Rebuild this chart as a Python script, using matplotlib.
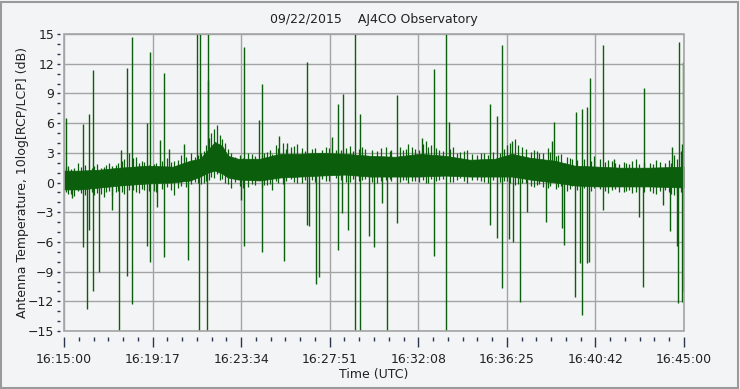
import numpy as np
import matplotlib
matplotlib.use("Agg")
import matplotlib.pyplot as plt
from matplotlib.ticker import MultipleLocator, FixedLocator
from matplotlib.patches import Rectangle

# dense core of the band (seconds after 16:15:00, dB)
core_t = [0, 46, 105, 163, 241, 316, 366, 395, 418, 438, 459, 476, 505, 569, 627, 685,
          743, 816, 888, 961, 1033, 1106, 1179, 1251, 1300, 1353, 1425, 1483, 1550, 1614,
          1701, 1800]
core_hi = [1.2, 1.2, 1.3, 1.5, 1.7, 1.6, 2.2, 2.4, 3.3, 4.1, 3.7, 2.7, 2.4, 2.4, 2.9, 2.9,
           3.0, 2.9, 2.7, 2.6, 2.9, 2.7, 2.3, 2.4, 2.9, 2.5, 2.2, 1.7, 1.6, 1.5,
           1.5, 1.6]
core_lo = [-0.7, -0.7, -0.5, -0.3, -0.1, 0.0, 0.2, 0.6, 1.0, 1.2, 0.9, 0.5, 0.3, 0.2, 0.5, 0.6,
           0.7, 0.8, 0.6, 0.6, 0.6, 0.7, 0.6, 0.6, 0.6, 0.3, 0.0, -0.3, -0.4, -0.4,
           -0.4, -0.5]

# ragged fringe of the band
fr_t = [12, 30, 40, 62, 95, 115, 130, 150, 175, 190, 210, 225, 260, 300, 320, 340, 370, 380,
        405, 428, 445, 452, 468, 485, 495, 535, 555, 590, 605, 615, 635, 660, 675, 720, 760,
        790, 830, 875, 910, 935, 950, 985, 1000, 1020, 1050, 1065, 1090, 1130, 1150, 1170,
        1200, 1220, 1285, 1310, 1330, 1365, 1380, 1405, 1435, 1460, 1475, 1540, 1580, 1600,
        1625, 1640, 1660, 1700, 1720, 1745, 1770, 1790]
fr_hi = [1.7, 1.5, 2.0, 1.8, 1.9, 1.6, 2.0, 1.8, 2.4, 3.0, 2.6, 2.2, 1.9, 2.5, 2.2, 2.8, 3.0, 2.6,
         3.2, 5.0, 5.8, 4.8, 4.0, 3.0, 2.6, 3.0, 2.7, 3.1, 2.9, 3.8, 4.0, 3.6, 3.9, 3.4, 3.6,
         3.3, 3.7, 3.4, 3.2, 3.6, 3.3, 3.3, 3.9, 3.4, 4.2, 3.8, 3.3, 3.6, 3.1, 3.3,
         2.8, 3.0, 3.8, 4.4, 3.6, 3.3, 3.0, 3.5, 2.8, 2.6, 2.4, 2.7, 2.3, 2.0,
         2.1, 1.9, 2.4, 2.0, 2.3, 2.0, 2.8, 3.2]
fr_lo = [-1.2, -1.4, -0.9, -1.3, -1.1, -1.5, -0.9, -1.0, -1.2, -0.8, -1.0, -0.7, -0.9, -0.5,
         -1.3, -0.4, -0.2, 0.1, 0.0, 0.6, 0.9, 0.3, 0.0, -0.6, 0.1, -0.5, -0.3, -0.3, -0.8, 0.2,
         -0.2, 0.4, 0.0, 0.3, 0.2, 0.5, 0.1, 0.4, 0.0, 0.3, 0.2, 0.3, 0.0, 0.2, 0.0, 0.4, 0.3,
         0.1, 0.5, 0.0, 0.3, 0.1, 0.2, -0.3, 0.0, -0.5, -0.2, -0.6, -0.5, -0.9, -0.4, -0.6,
         -1.1, -0.7, -1.0, -0.8, -1.0, -0.9, -1.2, -0.8, -1.3, -1.0]

fr2_t = [5, 20, 50, 80, 88, 108, 122, 140, 158, 168, 200, 218, 232, 248, 268, 285, 310, 330,
         355, 390, 398, 412, 422, 435, 460, 475, 510, 520, 545, 575, 582, 597, 622, 645, 668,
         690, 700, 730, 750, 770, 805, 820, 840, 855, 865, 895, 920, 945, 975, 992, 1010,
         1030, 1042, 1058, 1080, 1100, 1120, 1140, 1160, 1185, 1210, 1230, 1245, 1265, 1278,
         1295, 1318, 1340, 1355, 1372, 1390, 1412, 1428, 1442, 1470, 1490, 1510, 1530, 1555,
         1570, 1590, 1610, 1632, 1650, 1670, 1685, 1710, 1730, 1755, 1762, 1780, 1796]
fr2_hi = [1.6, 1.4, 1.6, 1.5, 1.7, 1.5, 1.8, 1.7, 2.0, 2.2, 2.5, 2.0, 2.1, 1.8, 2.0, 2.2, 2.1,
          2.3, 2.6, 2.8, 3.0, 3.8, 4.5, 5.4, 4.4, 3.4, 2.8, 2.5, 2.9, 2.8, 3.0, 3.3, 3.5, 3.4,
          3.7, 3.5, 3.2, 3.5, 3.3, 3.5, 3.3, 3.5, 3.2, 3.4, 3.6, 3.3, 3.5, 3.2, 3.6, 3.4, 3.6,
          3.3, 3.9, 3.6, 3.5, 3.2, 3.4, 3.0, 3.2, 2.9, 3.0, 2.8, 3.1, 3.0, 3.4,
          4.0, 3.8, 3.4, 3.1, 3.2, 3.0, 3.1, 2.7, 2.9, 2.5, 2.3, 2.4, 2.2, 2.4,
          2.1, 2.2, 1.9, 2.0, 2.2, 1.9, 2.1, 1.9, 2.1, 2.3, 2.0, 2.4, 2.2]
fr2_lo = [-1.0, -1.2, -1.1, -1.0, -1.3, -1.2, -1.0, -1.3, -0.9, -1.0, -0.8, -1.1, -0.8, -0.9,
          -1.0, -0.7, -0.8, -0.6, -0.5, 0.0, -0.2, 0.2, 0.3, 0.5, 0.4, -0.2, -0.4, -0.6, -0.2,
          -0.5, -0.3, -0.2, 0.0, 0.2, 0.1, 0.0, 0.3, 0.1, 0.4, 0.2, 0.3, 0.1, 0.4, 0.2, 0.3,
          0.1, 0.2, 0.4, 0.1, 0.3, 0.2, 0.1, 0.3, 0.0, 0.2, 0.4, 0.1, 0.3, 0.2, 0.3, 0.2,
          0.0, 0.3, 0.1, 0.2, 0.0, -0.2, -0.1, -0.4, -0.3, -0.5, -0.4, -0.7, -0.4, -0.7,
          -0.8, -0.6, -0.9, -0.7, -0.9, -0.8, -1.0, -0.9, -1.1, -0.8, -1.0, -1.1, -0.9,
          -1.0, -1.2, -1.1, -1.2]

# spikes above the band
up_t = [6, 56, 73, 85, 165, 184, 198, 242, 251, 280, 291, 306, 349, 387, 396, 417, 419,
        523, 567, 576, 625, 648, 706, 779, 796, 811, 846, 860, 966, 1038, 1075, 1110, 1117,
        1238, 1258, 1272, 1302, 1416, 1424, 1485, 1503, 1519, 1528, 1566, 1597, 1685, 1764,
        1786, 1793, 1798]
up_db = [6.5, 5.9, 6.9, 11.4, 3.3, 11.6, 14.7, 6.0, 13.2, 4.3, 11.1, 3.4, 3.9, 15, 15, 10.4, 15,
         13.7, 6.3, 9.9, 4.7, 4.0, 12.2, 4.6, 7.9, 8.9, 15, 6.9, 8.8, 4.5, 11.5, 15, 6.1,
         7.9, 6.7, 13.9, 4.2, 4.2, 6.1, 7.1, 7.4, 7.6, 10.6, 13.9, 2.4, 9.5, 3.6,
         14.2, 3.9, 12.2]

# spikes below the band
dn_t = [24, 56, 68, 73, 85, 102, 140, 161, 184, 198, 242, 251, 271, 291, 361, 393, 414,
        513, 523, 576, 640, 706, 712, 732, 741, 796, 808, 825, 846, 860, 886, 901, 922, 939,
        966, 1075, 1110, 1238, 1258, 1272, 1293, 1304, 1325, 1343, 1398, 1445, 1452, 1484,
        1498, 1503, 1519, 1525, 1566, 1670, 1682, 1740, 1759, 1781, 1784, 1793, 1798]
dn_db = [-1.6, -6.5, -12.8, -4.8, -11.0, -9.0, -2.8, -15, -9.4, -12.3, -6.4, -8.0, -2.5, -7.5,
         -7.8, -15, -15,
         -1.8, -6.4, -7.0, -7.9, -4.3, -4.4, -10.3, -9.5, -6.8, -3.1, -4.8, -15, -15, -5.4, -6.5,
         -2.1, -15,
         -4.1, -7.4, -15, -4.3, -5.6, -10.7, -5.7, -6.0, -12.1, -3.0, -4.0, -4.6, -6.3, -11.6,
         -8.1, -13.4, -8.1, -8.0, -2.8, -3.5, -10.6, -2.3, -4.9, -6.4, -12.2, -12.1, -11.0]

x_labels = ["16:15:00", "16:19:17", "16:23:34", "16:27:51", "16:32:08", "16:36:25",
            "16:40:42", "16:45:00"]

bg = "#f3f4f6"
green = "#0b5e0b"
grid_c = "#a4a4a4"
tick_c = "#2a3550"

plt.rcParams['font.family'] = ['DejaVu Sans']
fig = plt.figure(figsize=(7.4, 3.89), dpi=100, facecolor=bg)
ax = fig.add_axes([64/740, 1-331/389, 620/740, 297/389], facecolor=bg)

mid = (np.array(core_hi) + np.array(core_lo)) / 2
ax.fill_between(core_t, core_lo, core_hi, color=green, lw=0.5, zorder=3)
ax.vlines(fr_t, fr_lo, fr_hi, color=green, lw=0.9, zorder=3)
ax.vlines(fr2_t, fr2_lo, fr2_hi, color=green, lw=0.9, zorder=3)
ax.vlines(up_t, np.interp(up_t, core_t, mid), up_db, color=green, lw=1.0, zorder=3)
ax.vlines(dn_t, np.interp(dn_t, core_t, mid), dn_db, color=green, lw=1.0, zorder=3)

ax.set_xlim(0, 1800)
ax.set_ylim(-15, 15)
ax.xaxis.set_major_locator(FixedLocator(np.linspace(0, 1800, 8)))
ax.set_xticklabels(x_labels)
ax.xaxis.set_minor_locator(MultipleLocator(1800/42))
ax.yaxis.set_major_locator(MultipleLocator(3))
ax.yaxis.set_minor_locator(MultipleLocator(1))
ax.grid(True, which='major', color=grid_c, lw=1.0, zorder=1)

for s in ax.spines.values():
    s.set_visible(False)
ax.spines['bottom'].set_position(('outward', 4))
ax.spines['left'].set_position(('outward', 3))
ax.add_patch(Rectangle((0, 0), 1, 1, transform=ax.transAxes, fill=False,
                       ec=grid_c, lw=1.2, zorder=4, clip_on=False))

ax.tick_params(axis='x', which='major', length=7, width=1.0, color=tick_c,
               labelsize=9, pad=5, labelcolor='#222222')
ax.tick_params(axis='x', which='minor', length=3, width=1.0, color=tick_c)
ax.tick_params(axis='y', which='major', length=2, width=1.0, color=tick_c,
               labelsize=9, pad=2, labelcolor='#222222')
ax.tick_params(axis='y', which='minor', length=2, width=1.0, color=tick_c)

ax.set_title("09/22/2015    AJ4CO Observatory", fontsize=9, color='#222222', pad=8)
ax.set_xlabel("Time (UTC)", fontsize=9, color='#222222', labelpad=1)
ax.set_ylabel("Antenna Temperature, 10log[RCP/LCP] (dB)", fontsize=9, color='#222222',
              labelpad=-1)

fig.patches.append(Rectangle((0.002, 0.003), 0.995, 0.992, transform=fig.transFigure,
                             fill=False, ec='#9a9a9a', lw=1.5))

fig.savefig("out.png", dpi=100, facecolor=bg)
